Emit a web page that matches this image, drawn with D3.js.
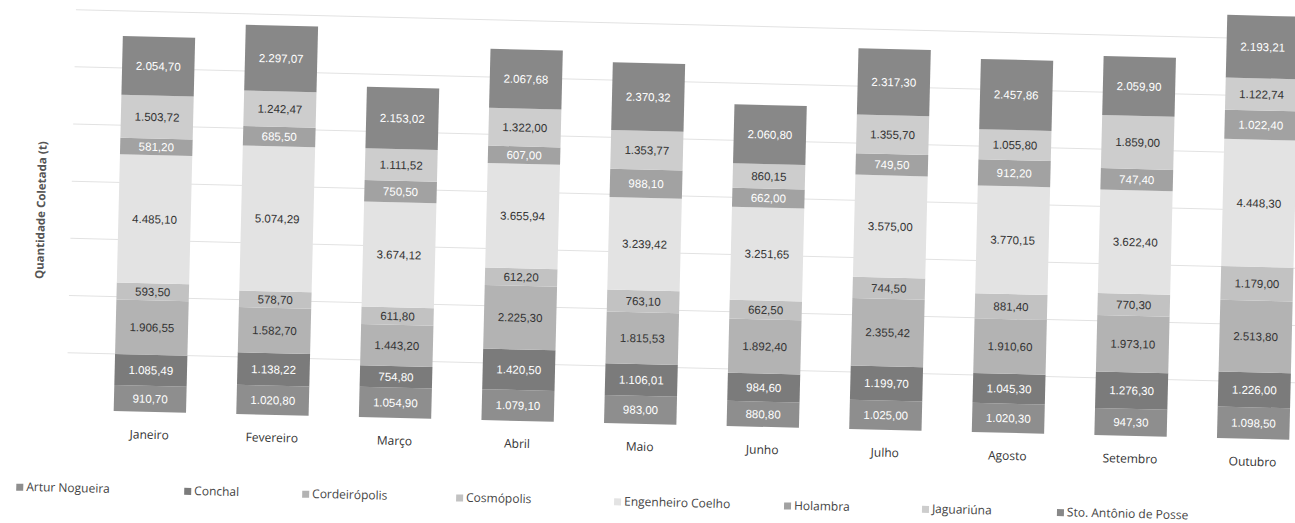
<!DOCTYPE html>
<html><head><meta charset="utf-8">
<script src="https://cdn.jsdelivr.net/npm/d3@7"></script>
<style>body{margin:0;background:#fff}svg{display:block}</style>
</head><body>
<svg id="c" width="1295" height="523"></svg>
<script>
const months = ["Janeiro","Fevereiro","Março","Abril","Maio","Junho","Julho","Agosto","Setembro","Outubro"];
const seriesNames = ["Artur Nogueira","Conchal","Cordeirópolis","Cosmópolis","Engenheiro Coelho","Holambra","Jaguariúna","Sto. Antônio de Posse"];
const arturNogueira    = [910.70,1020.80,1054.90,1079.10,983.00,880.80,1025.00,1020.30,947.30,1098.50];
const conchal          = [1085.49,1138.22,754.80,1420.50,1106.01,984.60,1199.70,1045.30,1276.30,1226.00];
const cordeiropolis    = [1906.55,1582.70,1443.20,2225.30,1815.53,1892.40,2355.42,1910.60,1973.10,2513.80];
const cosmopolis       = [593.50,578.70,611.80,612.20,763.10,662.50,744.50,881.40,770.30,1179.00];
const engenheiroCoelho = [4485.10,5074.29,3674.12,3655.94,3239.42,3251.65,3575.00,3770.15,3622.40,4448.30];
const holambra         = [581.20,685.50,750.50,607.00,988.10,662.00,749.50,912.20,747.40,1022.40];
const jaguariuna       = [1503.72,1242.47,1111.52,1322.00,1353.77,860.15,1355.70,1055.80,1859.00,1122.74];
const stoAntonio       = [2054.70,2297.07,2153.02,2067.68,2370.32,2060.80,2317.30,2457.86,2059.90,2193.21];
const yTicks = [0,2000,4000,6000,8000,10000,12000,14000];

const allSeries = [arturNogueira,conchal,cordeiropolis,cosmopolis,engenheiroCoelho,holambra,jaguariuna,stoAntonio];
const colors = ["#8e8e8e","#7b7b7b","#b3b3b3","#c2c2c2","#e3e3e3","#a2a2a2","#cdcdcd","#888888"];
const textCol = ["#fff","#fff","#333","#333","#333","#fff","#333","#fff"];

const rows = months.map((m,i)=>{const r={month:m}; seriesNames.forEach((s,j)=>r[s]=allSeries[j][i]); return r;});
const stack = d3.stack().keys(seriesNames)(rows);

const svg = d3.select("#c");
const root = svg.append("g").attr("transform","rotate(1.4,647,260)");
const x = d3.scaleBand().domain(months).range([93,1318]).paddingInner(0.41).paddingOuter(0.2);
const y = d3.scaleLinear().domain([0,14900]).range([424,-2]);

// gridlines
root.append("g").selectAll("line").data(yTicks.slice(1)).join("line")
  .attr("x1",70).attr("x2",1310).attr("y1",d=>y(d)).attr("y2",d=>y(d))
  .attr("stroke","#e2e2e2").attr("stroke-width",1);

const g = root.append("g");
stack.forEach((layer,j)=>{
  g.append("g").selectAll("rect").data(layer).join("rect")
    .attr("x",d=>x(d.data.month)).attr("width",x.bandwidth())
    .attr("y",d=>y(d[1])).attr("height",d=>y(d[0])-y(d[1]))
    .attr("fill",colors[j]);
  g.append("g").selectAll("text").data(layer).join("text")
    .attr("x",d=>x(d.data.month)+x.bandwidth()/2)
    .attr("y",d=>(y(d[0])+y(d[1]))/2+4)
    .attr("text-anchor","middle")
    .attr("font-family","Liberation Sans, Arial, sans-serif")
    .attr("font-size",11.5)
    .attr("fill",textCol[j])
    .text(d=>d3.format(",.2f")(d[1]-d[0]).replace(/,/g,"#").replace(/\./g,",").replace(/#/g,"."));
});

// x axis labels
root.append("g").selectAll("text").data(months).join("text")
  .attr("x",d=>x(d)+x.bandwidth()/2).attr("y",451)
  .attr("text-anchor","middle")
  .attr("font-family","Open Sans, DejaVu Sans, sans-serif").attr("font-size",12).attr("fill","#333")
  .text(d=>d);

// y axis title
root.append("text").attr("transform","translate(44,225) rotate(-90)")
  .attr("text-anchor","middle").attr("font-family","Open Sans, DejaVu Sans, sans-serif")
  .attr("font-size",11.5).attr("font-weight","bold").attr("fill","#555")
  .text("Quantidade Coletada (t)");

// legend
const legX = [22,190,308,462,620,790,928,1063];
const leg = root.append("g").selectAll("g").data(seriesNames).join("g")
  .attr("transform",(d,i)=>`translate(${legX[i]},${503})`);
leg.append("rect").attr("x",0).attr("y",-4).attr("width",7).attr("height",7).attr("fill",(d,i)=>colors[i]);
leg.append("text").attr("x",10).attr("y",3).attr("font-family","Open Sans, DejaVu Sans, sans-serif")
  .attr("font-size",12).attr("fill","#444").text(d=>d);
</script>
</body></html>
